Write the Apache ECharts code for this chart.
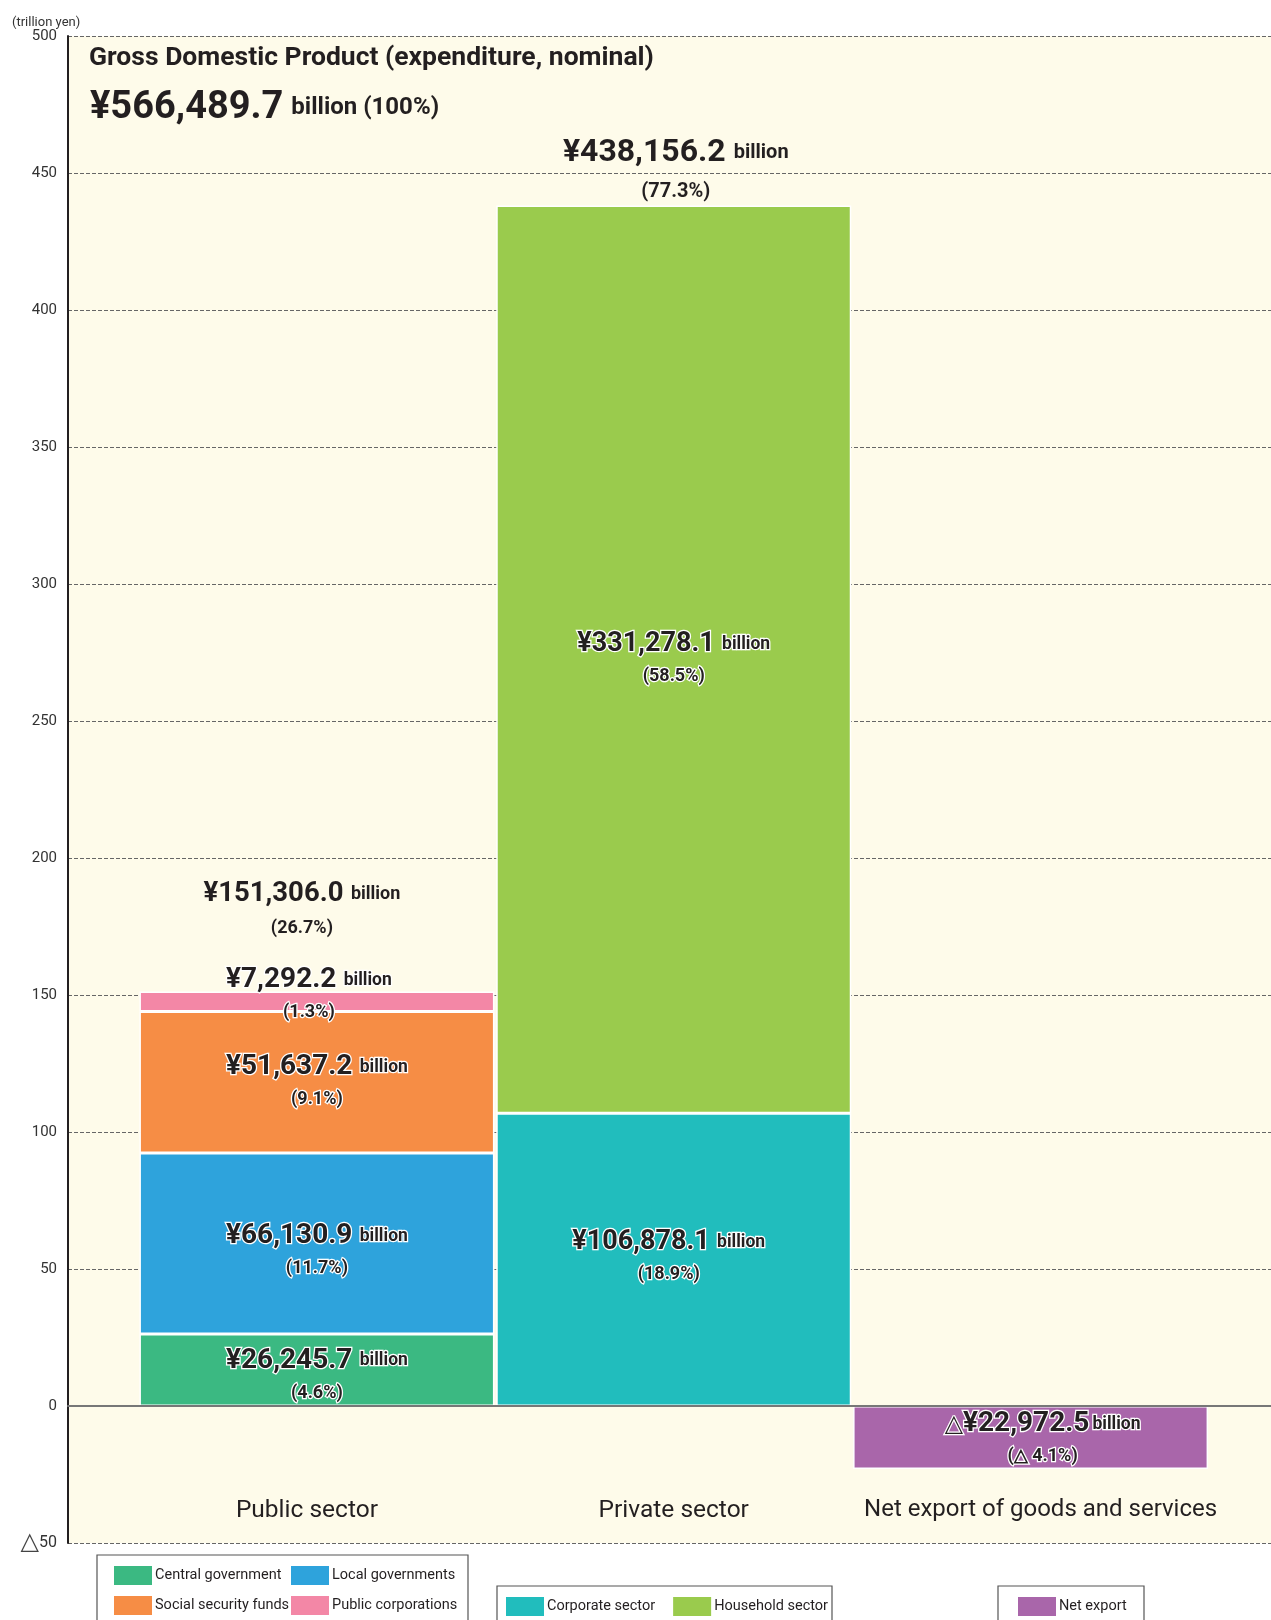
<!DOCTYPE html>
<html>
<head>
<meta charset="utf-8">
<title>GDP by sector</title>
<script src="https://cdn.jsdelivr.net/npm/echarts@6/dist/echarts.min.js"></script>
<style>
  html, body { margin: 0; padding: 0; background: #fff; }
  #chart { width: 1271px; height: 1620px; }
</style>
</head>
<body>
<div id="chart"></div>
<script>
// values in billion yen
const gdpTotal = 566489.7;
const sectors = ['Public sector', 'Private sector', 'Net export of goods and services'];
const publicNames = ['Central government', 'Local governments', 'Social security funds', 'Public corporations'];
const publicValues = [26245.7, 66130.9, 51637.2, 7292.2];
const privateNames = ['Corporate sector', 'Household sector'];
const privateValues = [106878.1, 331278.1];
const exportNames = ['Net export'];
const exportValues = [-22972.5];
const sectorTotals = [151306.0, 438156.2];

const publicColors = ['#3bb982', '#2ea3dc', '#f68d45', '#f387a6'];
const privateColors = ['#21bdbd', '#9acb4d'];
const exportColors = ['#a966aa'];

const FONT = 'Roboto, "Liberation Sans", sans-serif';
const INK = '#231f20';

const fmt = v => '¥' + Math.abs(v).toLocaleString('en-US', { minimumFractionDigits: 1, maximumFractionDigits: 1 });
const pct = v => (Math.abs(v) / gdpTotal * 100).toFixed(1);

function richSet(big, small, pctSize, lhBig, lhPct, haloW) {
  const base = { color: INK, fontFamily: FONT, fontWeight: 'bold', textBorderColor: '#fff', textBorderWidth: haloW };
  return {
    v: Object.assign({ fontSize: big, lineHeight: lhBig }, base),
    u: Object.assign({ fontSize: small, lineHeight: lhBig, padding: [0, 0, 0, 3] }, base),
    p: Object.assign({ fontSize: pctSize, lineHeight: lhPct }, base),
    t: Object.assign({}, base, { fontSize: big * 0.85, lineHeight: lhBig, fontFamily: '"DejaVu Sans", sans-serif', fontWeight: 'normal' })
  };
}

function segLabel(v) {
  if (v < 0) return '{t|△}{v|' + fmt(v) + '}{u|billion}\n{p|(△ ' + pct(v) + '%)}';
  return '{v|' + fmt(v) + '}{u| billion}\n{p|(' + pct(v) + '%)}';
}

const segOffsets = {
  'Central government': [0, 6],
  'Local governments': [0, 8],
  'Public corporations': [-8, -6],
  'Net export': [12, 2],
  'Corporate sector': [-5, -2]
};
const segFontSize = { 'Corporate sector': 27, 'Household sector': 27 };

function segment(name, color, idx, value) {
  return {
    type: 'bar', name, xAxisIndex: 1, yAxisIndex: 1, stack: 'gdp',
    barWidth: 355,
    data: sectors.map((_, i) => (i === idx ? value / 1000 : '-')),
    itemStyle: { color, borderColor: '#fff', borderWidth: 1.5 },
    label: {
      show: true, position: 'inside', offset: segOffsets[name] || [0, 0],
      formatter: () => segLabel(value),
      rich: richSet(segFontSize[name] || 28, 17.5, 18, 34, 30, 2.5)
    },
    emphasis: { disabled: true },
    silent: true
  };
}

const series = [];
publicNames.forEach((n, i) => series.push(segment(n, publicColors[i], 0, publicValues[i])));
privateNames.forEach((n, i) => series.push(segment(n, privateColors[i], 1, privateValues[i])));
exportNames.forEach((n, i) => series.push(segment(n, exportColors[i], 2, exportValues[i])));

// sector totals above the stacks
series.push({
  type: 'scatter', xAxisIndex: 1, yAxisIndex: 1, symbolSize: 0, silent: true, z: 5,
  itemStyle: { opacity: 1 },
  data: [
    { value: [0, sectorTotals[0] / 1000], label: { distance: 47, offset: [-15, 0], rich: richSet(27.5, 18, 18, 36, 32, 0) } },
    { value: [1, sectorTotals[1] / 1000], label: { distance: -5, offset: [2, 0], rich: richSet(32, 20, 20, 42, 36, 0) } }
  ],
  label: {
    show: true, position: 'top',
    formatter: p => segLabel(sectorTotals[p.dataIndex])
  }
});

// small horizontal nudges for the category names
const catStyle = { fontSize: 24.5, color: INK, fontFamily: FONT };
const catRich = {
  c0: Object.assign({ padding: [0, 20, 0, 0] }, catStyle),
  c1: Object.assign({}, catStyle),
  c2: Object.assign({ padding: [0, 0, 0, 20], fontSize: 24 }, catStyle, { fontSize: 24 })
};

const chart = echarts.init(document.getElementById('chart'));
chart.setOption({
  animation: false,
  backgroundColor: '#fff',
  title: [
    {
      text: 'Gross Domestic Product (expenditure, nominal)', left: 84, top: 40,
      textStyle: { fontFamily: FONT, fontSize: 26.5, fontWeight: 'bold', color: INK }
    },
    {
      text: '{a|' + fmt(gdpTotal) + '}{b| billion (100%)}', left: 85, top: 80,
      textStyle: {
        rich: {
          a: { fontFamily: FONT, fontSize: 38, fontWeight: 'bold', color: INK, lineHeight: 46 },
          b: { fontFamily: FONT, fontSize: 24, fontWeight: 'bold', color: INK, lineHeight: 46, padding: [0, 0, 0, 2] }
        }
      }
    },
    {
      text: '(trillion yen)', left: 7, top: 11,
      textStyle: { fontFamily: FONT, fontSize: 13, fontWeight: 'normal', color: '#333' }
    }
  ],
  grid: [
    { left: 68, right: 0, top: 36, bottom: 77, show: true, backgroundColor: '#fefbea', borderWidth: 0 },
    { left: 138.5, right: 62, top: 36, bottom: 77 }
  ],
  xAxis: [
    {
      gridIndex: 0, type: 'value', min: 0, max: 1, z: 5,
      axisLine: { show: true, onZero: true, lineStyle: { color: '#777', width: 2 } },
      axisTick: { show: false }, axisLabel: { show: false }, splitLine: { show: false }
    },
    {
      gridIndex: 1, type: 'category', data: sectors,
      axisLine: { show: false }, axisTick: { show: false }, splitLine: { show: false },
      axisLabel: {
        margin: -45, interval: 0,
        formatter: (v, i) => '{c' + i + '|' + v + '}',
        rich: catRich
      }
    }
  ],
  yAxis: [
    {
      gridIndex: 0, type: 'value', min: -50, max: 500, interval: 50,
      axisLine: { show: true, onZero: false, lineStyle: { color: INK, width: 2 } },
      axisTick: { show: false },
      axisLabel: {
        margin: 11, fontSize: 15, color: '#333', fontFamily: FONT,
        formatter: v => (v < 0 ? '{t|△}{n|' + (-v) + '}' : String(v)),
        rich: {
          t: { fontSize: 24, color: '#444', fontFamily: '"DejaVu Sans", sans-serif' },
          n: { fontSize: 16, color: '#333', fontFamily: FONT }
        }
      },
      splitLine: { show: true, lineStyle: { color: '#666', width: 1, type: [4, 2] } }
    },
    { gridIndex: 1, type: 'value', min: -50, max: 500, interval: 50, show: false }
  ],
  legend: [
    { data: [publicNames[0], publicNames[2]], orient: 'vertical', left: 114, top: 1566 },
    { data: [publicNames[1], publicNames[3]], orient: 'vertical', left: 291, top: 1566 },
    { data: privateNames, orient: 'horizontal', left: 506, top: 1597, itemGap: 18 },
    { data: exportNames, orient: 'horizontal', left: 1018, top: 1597 }
  ].map(l => Object.assign({
    icon: 'rect', itemWidth: 38, itemHeight: 19, itemGap: 11, padding: 0,
    selectedMode: false, itemStyle: { borderWidth: 0 },
    textStyle: { fontFamily: FONT, fontSize: 14.5, color: INK, padding: [0, 0, 0, -2] }
  }, l)),
  graphic: [
    { type: 'rect', shape: { x: 97, y: 1555, width: 371, height: 90 }, style: { fill: 'none', stroke: '#555', lineWidth: 1.2 } },
    { type: 'rect', shape: { x: 497, y: 1586, width: 335, height: 60 }, style: { fill: 'none', stroke: '#555', lineWidth: 1.2 } },
    { type: 'rect', shape: { x: 998, y: 1586, width: 146, height: 60 }, style: { fill: 'none', stroke: '#555', lineWidth: 1.2 } }
  ],
  series
});
</script>
</body>
</html>
